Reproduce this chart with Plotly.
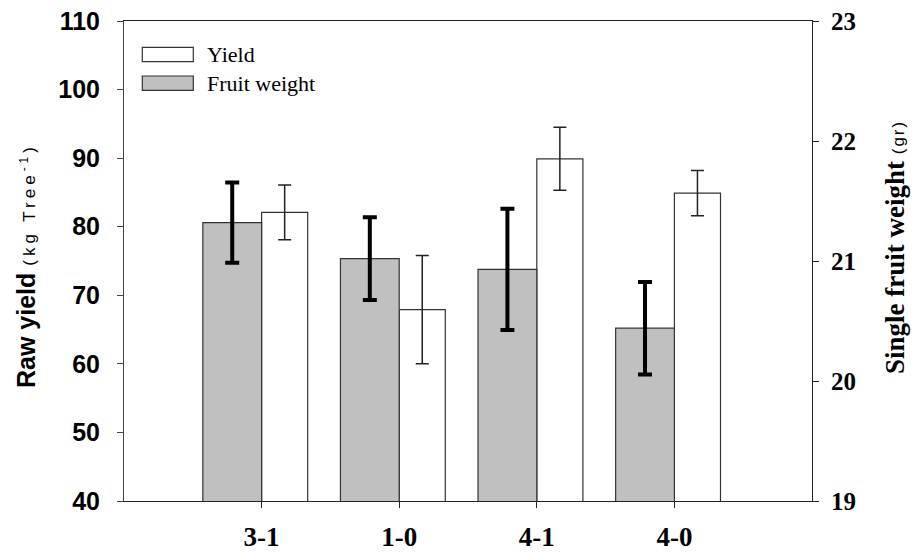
import plotly.graph_objects as go

categories = ["3-1", "1-0", "4-1", "4-0"]
yield_vals = [82.1, 67.9, 89.9, 84.9]
yield_err = [4.0, 7.9, 4.6, 3.3]
weight_vals = [21.32, 21.02, 20.93, 20.44]
weight_err = [0.335, 0.345, 0.505, 0.385]
left_ticks = [40, 50, 60, 70, 80, 90, 100, 110]
right_ticks = [19, 20, 21, 22, 23]

W, H = 913, 554
ML, MR, MT, MB = 124, 101, 21, 53
PW, PH = W - ML - MR, H - MT - MB

def px(x):
    return (x - ML) / PW

def py(y):
    return (H - MB - y) / PH

fig = go.Figure()
fig.add_trace(go.Bar(
    x=categories, y=yield_vals, name="Yield", yaxis="y",
    width=0.335, offset=0.0,
    marker=dict(color="white", line=dict(color="#333333", width=1.2)),
    error_y=dict(type="data", array=yield_err, color="#222222", thickness=1.5, width=6.5),
    showlegend=False,
))
fig.add_trace(go.Bar(
    x=categories, y=weight_vals, name="Fruit weight", yaxis="y2",
    width=0.427, offset=-0.427,
    marker=dict(color="#C0C0C0", line=dict(color="#333333", width=1.2)),
    error_y=dict(type="data", array=weight_err, color="black", thickness=4, width=7),
    showlegend=False,
))

fig.update_layout(
    width=W, height=H,
    margin=dict(l=ML, r=MR, t=MT, b=MB, autoexpand=False),
    paper_bgcolor="white", plot_bgcolor="white",
    barmode="overlay",
    xaxis=dict(
        type="category", range=[-1, 4], showgrid=False, zeroline=False,
        showline=True, linecolor="#222222", linewidth=1, mirror=True,
        ticks="outside", ticklen=6, tickcolor="#222222",
        tickfont=dict(family="Liberation Serif", size=27, color="black", weight="bold"),
        ticklabelstandoff=6,
    ),
    yaxis=dict(
        range=[40, 110], tickvals=left_ticks, showgrid=False, zeroline=False,
        showline=True, linecolor="#444444", linewidth=1,
        ticks="outside", ticklen=6, tickcolor="#444444",
        tickfont=dict(family="Liberation Sans", size=25, color="black", weight="bold"),
        ticklabelstandoff=12,
    ),
    yaxis2=dict(
        range=[19, 23], tickvals=right_ticks, overlaying="y", side="right",
        showgrid=False, zeroline=False,
        showline=True, linecolor="#222222", linewidth=1,
        ticks="outside", ticklen=6, tickcolor="#222222",
        tickfont=dict(family="Liberation Serif", size=25, color="black", weight="bold"),
        ticklabelstandoff=7,
    ),
    showlegend=False,
)

# legend drawn manually
fig.add_shape(type="rect", xref="paper", yref="paper",
              x0=px(142.3), x1=px(193.3), y0=py(61.7), y1=py(47.3),
              line=dict(color="#333333", width=1.2), fillcolor="white")
fig.add_shape(type="rect", xref="paper", yref="paper",
              x0=px(142.3), x1=px(193.3), y0=py(90.3), y1=py(76),
              line=dict(color="#333333", width=1.2), fillcolor="#C0C0C0")
fig.add_annotation(text="Yield", xref="paper", yref="paper", x=px(205), y=py(55),
                   xanchor="left", yanchor="middle", showarrow=False,
                   font=dict(family="Liberation Serif", size=22, color="black"))
fig.add_annotation(text="Fruit weight", xref="paper", yref="paper", x=px(205), y=py(83),
                   xanchor="left", yanchor="middle", showarrow=False,
                   font=dict(family="Liberation Serif", size=22, color="black"))

# axis titles
fig.add_annotation(
    text="<b>Raw yield</b> <span style='font-size:17px;font-weight:normal;letter-spacing:4px'>(kg Tree<sup>-1</sup>)</span>",
    xref="paper", yref="paper", x=px(26), y=py(266), textangle=-90,
    xanchor="center", yanchor="middle", showarrow=False,
    font=dict(family="Liberation Sans", size=25, color="black"))
fig.add_annotation(
    text="<b>Single fruit weight</b> <span style='font-family:Liberation Sans;font-size:17px;letter-spacing:2px'>(gr)</span>",
    xref="paper", yref="paper", x=px(895), y=py(247), textangle=-90,
    xanchor="center", yanchor="middle", showarrow=False,
    font=dict(family="Liberation Serif", size=27, color="black"))

fig.write_html("out.html", config={"displayModeBar": False},
               post_script="document.body.style.margin='0px';")
